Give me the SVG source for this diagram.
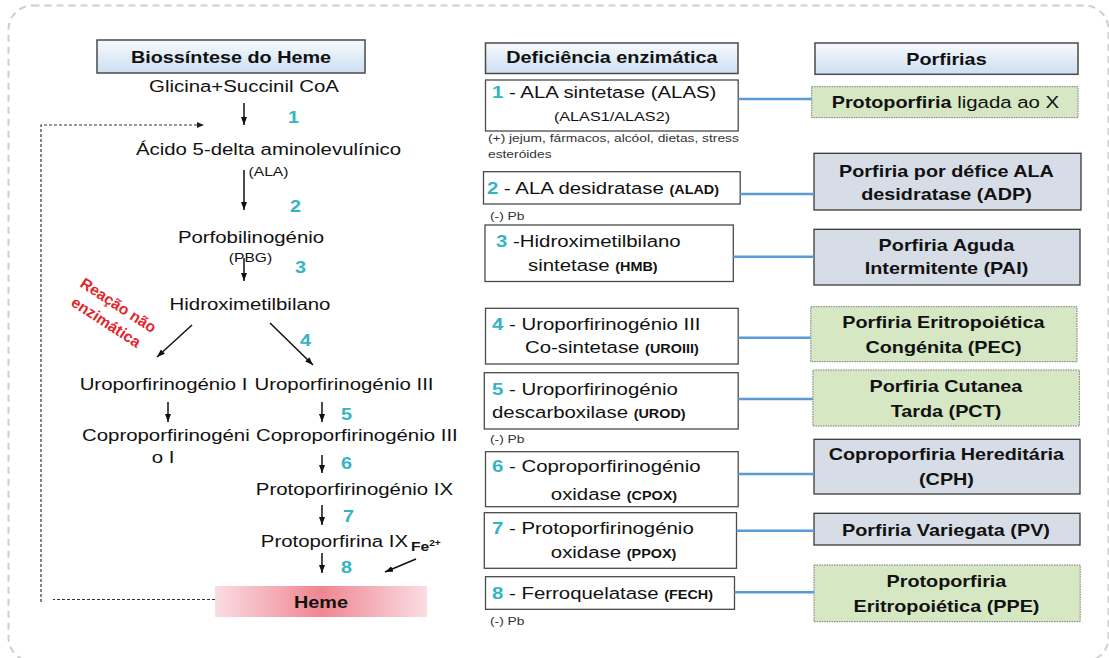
<svg xmlns="http://www.w3.org/2000/svg" width="1109" height="658" viewBox="0 0 1109 658">
<defs>
<style>
.t{font-family:"Liberation Sans",Arial,sans-serif;fill:#111;transform-box:fill-box;transform:scaleX(1.2)}
.m{text-anchor:middle;transform-origin:50% 50%}
.l{text-anchor:start;transform-origin:0% 50%}
.r17{font-size:17px}
.b16{font-size:16.5px;font-weight:bold}
.s13{font-size:13px}
.n{font-weight:bold;fill:#33B4C4}
.sb{font-size:12px;font-weight:bold}
.note{font-size:11.5px;fill:#333}
.hdr{fill:url(#hg);stroke:#4a4a4a;stroke-width:1.5}
.box{fill:#fff;stroke:#4a4a4a;stroke-width:1.3}
.gray{fill:#D7DDE7;stroke:#3a3a3a;stroke-width:1.3}
.green{fill:#D6E7C4;stroke:#777;stroke-width:1;stroke-dasharray:1.5 1}
.con line{stroke:#5B9BD5;stroke-width:2.5}
.arr{stroke:#111;stroke-width:1.5;fill:none;marker-end:url(#ah)}
.fb{stroke:#333;stroke-width:1.2;stroke-dasharray:3 2;fill:none}
.red{font-family:"Liberation Sans",Arial,sans-serif;font-size:15.5px;font-weight:bold;fill:#E3262B}
</style>
<linearGradient id="hg" x1="0" y1="0" x2="0" y2="1">
<stop offset="0" stop-color="#F7FAFD"/>
<stop offset="1" stop-color="#CCDFF2"/>
</linearGradient>
<linearGradient id="heg" x1="0" y1="0" x2="1" y2="0">
<stop offset="0" stop-color="#FADDE2"/>
<stop offset="0.5" stop-color="#EF8692"/>
<stop offset="1" stop-color="#FADDE2"/>
</linearGradient>
<marker id="ah" markerWidth="8" markerHeight="6" refX="8" refY="3" orient="auto" markerUnits="userSpaceOnUse">
<path d="M0,0 L8,3 L0,6 z" fill="#111"/>
</marker>
<marker id="ahd" markerWidth="7" markerHeight="6" refX="7" refY="3" orient="auto" markerUnits="userSpaceOnUse">
<path d="M0,0 L7,3 L0,6 z" fill="#222"/>
</marker>
</defs>

<rect x="8.5" y="5.5" width="1100" height="656" rx="24" fill="#fff" stroke="#CFCFCF" stroke-width="2" stroke-dasharray="7 5"/>

<!-- Left: biosynthesis -->
<g id="title-biossintese">
<rect class="hdr" x="97" y="40" width="268" height="33"/>
<text class="t m b16" x="231" y="63">Biossíntese do Heme</text>
</g>
<g id="glicina"><text class="t m r17" x="244" y="92">Glicina+Succinil CoA</text></g>
<g id="ala"><text class="t m r17" x="268.5" y="155">Ácido 5-delta aminolevulínico</text>
<text class="t m s13" x="268.5" y="176">(ALA)</text></g>
<g id="pbg"><text class="t m r17" x="251" y="243">Porfobilinogénio</text>
<text class="t m s13" x="250.5" y="262">(PBG)</text></g>
<g id="hmb"><text class="t m r17" x="250" y="310">Hidroximetilbilano</text></g>
<g id="nao-enzimatica">
<text class="red" transform="translate(79,286) rotate(33)">Reação não</text>
<text class="red" transform="translate(70,305) rotate(33)">enzimática</text>
</g>
<g id="uro1"><text class="t m r17" x="163.5" y="390">Uroporfirinogénio I</text></g>
<g id="uro3"><text class="t m r17" x="344" y="390">Uroporfirinogénio III</text></g>
<g id="copro1"><text class="t l r17" x="82" y="441">Coproporfirinogéni</text>
<text class="t m r17" x="163" y="463">o I</text></g>
<g id="copro3"><text class="t l r17" x="256" y="441">Coproporfirinogénio III</text></g>
<g id="protogen"><text class="t m r17" x="354.5" y="495">Protoporfirinogénio IX</text></g>
<g id="protoporfirina"><text class="t m r17" x="334.5" y="547">Protoporfirina IX</text></g>
<g id="fe"><text class="t l" x="411" y="551" font-size="13" font-weight="bold">Fe<tspan font-size="8.5" dy="-5">2+</tspan></text></g>
<g id="heme">
<rect x="215" y="586" width="212" height="31" fill="url(#heg)"/>
<text class="t m b16" x="321" y="608">Heme</text>
</g>
<g id="steps">
<text class="t l b16 n" x="288" y="123">1</text>
<text class="t l b16 n" x="290" y="212">2</text>
<text class="t l b16 n" x="295" y="273">3</text>
<text class="t l b16 n" x="300" y="346">4</text>
<text class="t l b16 n" x="341" y="420">5</text>
<text class="t l b16 n" x="341" y="469">6</text>
<text class="t l b16 n" x="343" y="522">7</text>
<text class="t l b16 n" x="341" y="573">8</text>
</g>
<g id="arrows">
<line class="arr" x1="244" y1="103" x2="244" y2="125"/>
<line class="arr" x1="244" y1="170" x2="244" y2="210"/>
<line class="arr" x1="244" y1="258" x2="244" y2="281"/>
<line class="arr" x1="192" y1="325" x2="157" y2="357"/>
<line class="arr" x1="270" y1="323" x2="313" y2="365"/>
<line class="arr" x1="168" y1="402" x2="168" y2="422"/>
<line class="arr" x1="322" y1="402" x2="322" y2="422"/>
<line class="arr" x1="322" y1="455" x2="322" y2="473"/>
<line class="arr" x1="322" y1="505" x2="322" y2="525"/>
<line class="arr" x1="322" y1="553" x2="322" y2="573"/>
<line class="arr" x1="416" y1="559" x2="385" y2="572"/>
<path class="fb" d="M215,599.5 H53 M41,602 V125 H204" marker-end="url(#ahd)"/>
</g>

<!-- Middle: enzyme deficiency -->
<g id="title-deficiencia">
<rect class="hdr" x="485.5" y="43" width="252.5" height="30.5"/>
<text class="t m b16" x="612" y="63.5">Deficiência enzimática</text>
</g>
<g id="enz1">
<rect class="box" x="485.5" y="80" width="252.7" height="51"/>
<text class="t l r17" x="492" y="98.5"><tspan class="n">1</tspan> - ALA sintetase (ALAS)</text>
<text class="t m" x="612" y="121" font-size="13.5">(ALAS1/ALAS2)</text>
</g>
<g id="nota1">
<text class="t l note" x="488" y="142">(+) jejum, fármacos, alcóol, dietas, stress</text>
<text class="t l note" x="488" y="158">esteróides</text>
</g>
<g id="enz2">
<rect class="box" x="483.5" y="171.7" width="256.7" height="32.3"/>
<text class="t l r17" x="487" y="194"><tspan class="n">2</tspan> - ALA desidratase <tspan class="sb">(ALAD)</tspan></text>
</g>
<g id="nota2"><text class="t l note" x="490" y="220">(-) Pb</text></g>
<g id="enz3">
<rect class="box" x="485" y="225" width="248.3" height="56.5"/>
<text class="t l r17" x="496" y="247"><tspan class="n">3</tspan> -Hidroximetilbilano</text>
<text class="t l r17" x="528" y="271.5">sintetase <tspan class="sb">(HMB)</tspan></text>
</g>
<g id="enz4">
<rect class="box" x="485.5" y="308.3" width="252.7" height="55.7"/>
<text class="t l r17" x="492" y="330"><tspan class="n">4</tspan> - Uroporfirinogénio III</text>
<text class="t l r17" x="525" y="353.3">Co-sintetase <tspan class="sb">(UROIII)</tspan></text>
</g>
<g id="enz5">
<rect class="box" x="484.3" y="372.7" width="253.9" height="56.3"/>
<text class="t l r17" x="492" y="395"><tspan class="n">5</tspan> - Uroporfirinogénio</text>
<text class="t l r17" x="492" y="418.3">descarboxilase <tspan class="sb">(UROD)</tspan></text>
</g>
<g id="nota5"><text class="t l note" x="490" y="443.3">(-) Pb</text></g>
<g id="enz6">
<rect class="box" x="485.5" y="451.7" width="252.7" height="55"/>
<text class="t l r17" x="492" y="471.7"><tspan class="n">6</tspan> - Coproporfirinogénio</text>
<text class="t l r17" x="550.8" y="500">oxidase <tspan class="sb">(CPOX)</tspan></text>
</g>
<g id="enz7">
<rect class="box" x="484.3" y="512.7" width="252.2" height="55.6"/>
<text class="t l r17" x="492" y="534.3"><tspan class="n">7</tspan> - Protoporfirinogénio</text>
<text class="t l r17" x="550.8" y="558.3">oxidase <tspan class="sb">(PPOX)</tspan></text>
</g>
<g id="enz8">
<rect class="box" x="485.5" y="576.7" width="249" height="32.6"/>
<text class="t l r17" x="492" y="599.3"><tspan class="n">8</tspan> - Ferroquelatase <tspan class="sb">(FECH)</tspan></text>
</g>
<g id="nota8"><text class="t l note" x="490" y="625">(-) Pb</text></g>

<!-- Right: porphyrias -->
<g id="title-porfirias">
<rect class="hdr" x="815" y="43" width="263" height="31.3"/>
<text class="t m b16" x="946.5" y="65">Porfirias</text>
</g>
<g id="porf1">
<rect class="green" x="811.7" y="86.7" width="266.3" height="31"/>
<text class="t m r17" x="945.5" y="108.3"><tspan font-weight="bold" font-size="16.5">Protoporfiria</tspan> ligada ao X</text>
</g>
<g id="porf2">
<rect class="gray" x="814" y="153.3" width="267" height="56.7"/>
<text class="t m b16" x="946.5" y="176.7">Porfiria por défice ALA</text>
<text class="t m b16" x="946.5" y="200">desidratase (ADP)</text>
</g>
<g id="porf3">
<rect class="gray" x="814" y="229.3" width="266" height="55.7"/>
<text class="t m b16" x="946.5" y="251.5">Porfiria Aguda</text>
<text class="t m b16" x="946.5" y="274.5">Intermitente (PAI)</text>
</g>
<g id="porf4">
<rect class="green" x="810.8" y="306.7" width="266.2" height="55"/>
<text class="t m b16" x="943.5" y="328.3">Porfiria Eritropoiética</text>
<text class="t m b16" x="943.5" y="352.7">Congénita (PEC)</text>
</g>
<g id="porf5">
<rect class="green" x="812.9" y="370" width="266.5" height="56"/>
<text class="t m b16" x="946" y="392">Porfiria Cutanea</text>
<text class="t m b16" x="946" y="416.7">Tarda (PCT)</text>
</g>
<g id="porf6">
<rect class="gray" x="814" y="439.3" width="266" height="54.7"/>
<text class="t m b16" x="946.5" y="460">Coproporfiria Hereditária</text>
<text class="t m b16" x="946.5" y="485">(CPH)</text>
</g>
<g id="porf7">
<rect class="gray" x="814" y="513.3" width="266" height="31.7"/>
<text class="t m b16" x="946" y="536">Porfiria Variegata (PV)</text>
</g>
<g id="porf8">
<rect class="green" x="814" y="565" width="266.2" height="56.7"/>
<text class="t m b16" x="946.5" y="586.7">Protoporfiria</text>
<text class="t m b16" x="946.5" y="611.7">Eritropoiética (PPE)</text>
</g>

<g id="connectors" class="con">
<line x1="738.2" y1="99" x2="811.7" y2="99"/>
<line x1="740.2" y1="194" x2="814" y2="194"/>
<line x1="733.3" y1="256.7" x2="814" y2="256.7"/>
<line x1="738.2" y1="337.7" x2="810.8" y2="337.7"/>
<line x1="738.2" y1="399" x2="812.9" y2="399"/>
<line x1="738.2" y1="474" x2="814" y2="474"/>
<line x1="736.5" y1="530.7" x2="814" y2="530.7"/>
<line x1="734.5" y1="592.3" x2="814" y2="592.3"/>
</g>
</svg>
